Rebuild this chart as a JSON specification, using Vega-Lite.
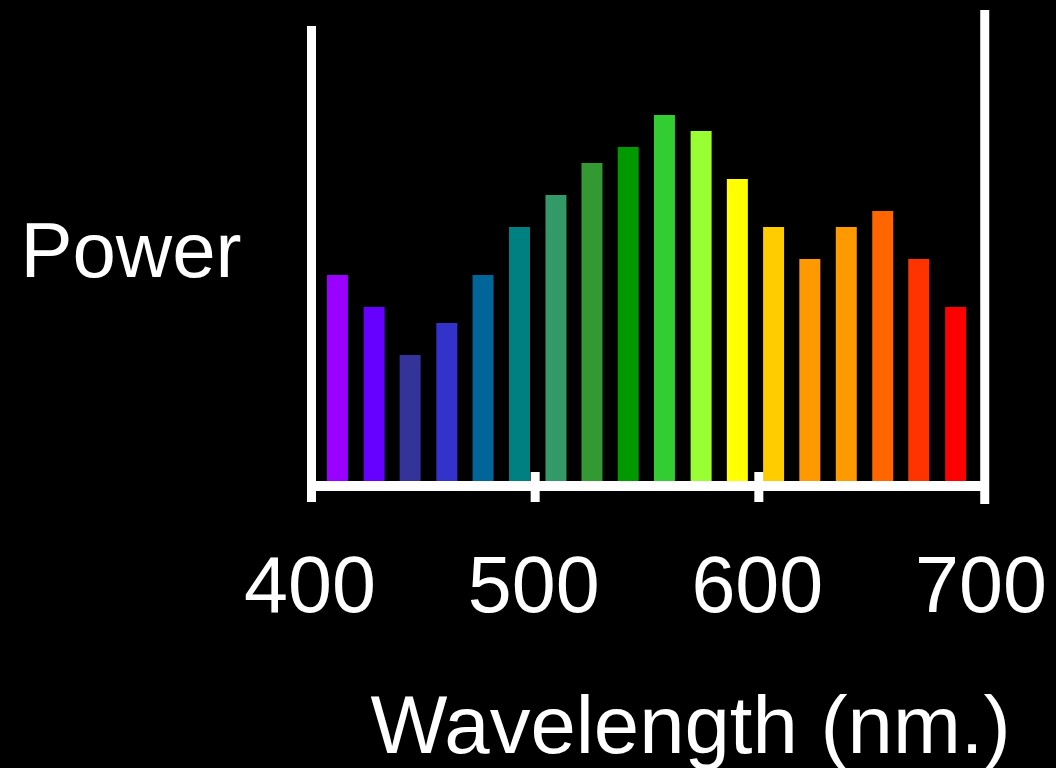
{
  "$schema": "https://vega.github.io/schema/vega-lite/v6.json",
  "autosize": {"type": "none"},
  "width": 671,
  "height": 460,
  "padding": {"left": 311.5, "top": 26, "right": 73.5, "bottom": 282},
  "background": "#000000",
  "config": {
    "view": {"stroke": null},
    "font": "Liberation Sans",
    "scale": {"continuousPadding": 0}
  },
  "layer": [
    {
      "data": {
        "values": [
          {"wavelength": 411.6, "power": 13},
          {"wavelength": 428.0, "power": 11},
          {"wavelength": 444.1, "power": 8},
          {"wavelength": 460.5, "power": 10},
          {"wavelength": 476.7, "power": 13},
          {"wavelength": 493.0, "power": 16},
          {"wavelength": 509.3, "power": 18},
          {"wavelength": 525.4, "power": 20},
          {"wavelength": 541.6, "power": 21},
          {"wavelength": 557.8, "power": 23},
          {"wavelength": 574.2, "power": 22},
          {"wavelength": 590.4, "power": 19},
          {"wavelength": 606.6, "power": 16},
          {"wavelength": 622.8, "power": 14},
          {"wavelength": 639.1, "power": 16},
          {"wavelength": 655.4, "power": 17},
          {"wavelength": 671.5, "power": 14},
          {"wavelength": 688.0, "power": 11}
        ]
      },
      "mark": {"type": "bar", "width": 21},
      "encoding": {
        "x": {
          "field": "wavelength",
          "type": "quantitative",
          "title": "Wavelength (nm.)",
          "scale": {"domain": [400, 700], "nice": false, "zero": false, "padding": 0},
          "axis": {
            "values": [400, 500, 600, 700],
            "format": "d",
            "domain": false,
            "ticks": false,
            "tickSize": 0,
            "grid": false,
            "labelFontSize": 79,
            "labelColor": "#ffffff",
            "labelFont": "Liberation Sans",
            "labelBaseline": "alphabetic",
            "labelPadding": 125,
            "labelOffset": -2,
            "labelOverlap": false,
            "labelFlush": false,
            "titleFont": "Liberation Sans",
            "titleFontSize": 81.5,
            "titleFontWeight": "normal",
            "titleColor": "#ffffff",
            "titleX": 378.5,
            "titleY": 266,
            "titleAlign": "center",
            "titleBaseline": "alphabetic"
          }
        },
        "y": {
          "field": "power",
          "type": "quantitative",
          "title": "Power",
          "scale": {"domain": [-0.1875, 28.5625], "nice": false, "zero": false, "padding": 0},
          "axis": {
            "domain": false,
            "ticks": false,
            "labels": false,
            "grid": false,
            "titleAngle": 0,
            "titleFont": "Liberation Sans",
            "titleFontSize": 78,
            "titleFontWeight": "normal",
            "titleColor": "#ffffff",
            "titleX": -181,
            "titleY": 250,
            "titleAlign": "center",
            "titleBaseline": "alphabetic"
          }
        },
        "y2": {"datum": 0},
        "color": {
          "field": "wavelength",
          "type": "ordinal",
          "legend": null,
          "scale": {
            "range": ["#9900FF", "#6600FF", "#333399", "#3333CC", "#006699", "#008080", "#339966", "#339933", "#009900", "#33CC33", "#99FF33", "#FFFF00", "#FFCC00", "#FF9900", "#FF9900", "#FF6600", "#FF3300", "#FF0000"]
          }
        }
      }
    },
    {
      "data": {"values": [{}]},
      "mark": {"type": "rule", "color": "#ffffff", "strokeWidth": 10, "strokeCap": "butt", "clip": false},
      "encoding": {
        "x": {"datum": 400, "type": "quantitative"},
        "x2": {"datum": 701},
        "y": {"datum": -0.1875, "type": "quantitative"}
      }
    },
    {
      "data": {"values": [{}]},
      "mark": {"type": "rule", "color": "#ffffff", "strokeWidth": 9, "strokeCap": "butt", "clip": false},
      "encoding": {
        "x": {"datum": 400, "type": "quantitative"},
        "y": {"datum": 28.5625, "type": "quantitative"},
        "y2": {"datum": -1.1875}
      }
    },
    {
      "data": {"values": [{}]},
      "mark": {"type": "rule", "color": "#ffffff", "strokeWidth": 9, "strokeCap": "butt", "clip": false},
      "encoding": {
        "x": {"datum": 701, "type": "quantitative"},
        "y": {"datum": 29.5625, "type": "quantitative"},
        "y2": {"datum": -1.3125}
      }
    },
    {
      "data": {"values": [{"tick": 500}, {"tick": 600}]},
      "mark": {"type": "rule", "color": "#ffffff", "strokeWidth": 9, "strokeCap": "butt", "clip": false},
      "encoding": {
        "x": {"field": "tick", "type": "quantitative", "title": "Wavelength (nm.)"},
        "y": {"datum": 0.6875, "type": "quantitative"},
        "y2": {"datum": -1.1875}
      }
    }
  ]
}
